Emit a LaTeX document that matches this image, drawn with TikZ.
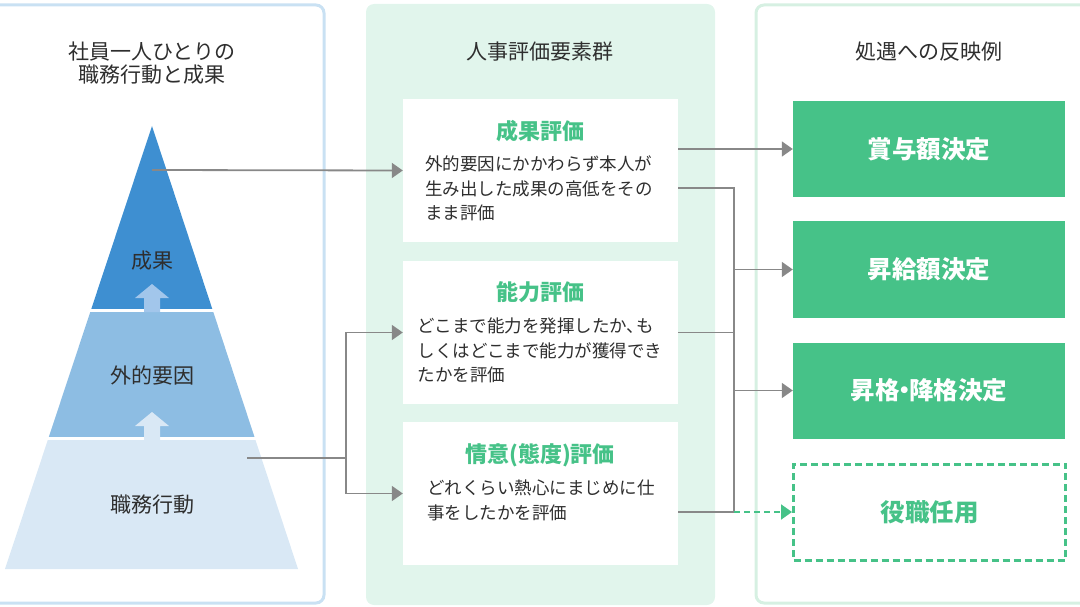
\documentclass[tikz,border=0pt]{standalone}
\usepackage{fontspec}
\setmainfont{Noto Sans CJK JP}
\usetikzlibrary{arrows.meta}
\definecolor{pyrtop}{HTML}{3E8FD1}
\definecolor{pyrmid}{HTML}{8DBDE3}
\definecolor{pyrlow}{HTML}{D9E8F5}
\definecolor{arrtop}{HTML}{A2C6EB}
\definecolor{leftframe}{HTML}{C9E1F3}
\definecolor{midpanel}{HTML}{E1F5EC}
\definecolor{rightframe}{HTML}{D6F0E2}
\definecolor{okgreen}{HTML}{46C288}
\definecolor{linegray}{HTML}{888888}
\definecolor{txt}{HTML}{2E2E2E}
\begin{document}
\begin{tikzpicture}[x=1pt,y=-1pt,
		heading/.style={text=txt,font=\fontsize{21}{23}\selectfont,align=center,inner sep=0},
		evalbox/.style={fill=white,minimum width=275pt,minimum height=143pt,inner sep=0},
		evalhead/.style={text=okgreen,font=\bfseries\fontsize{22}{24}\selectfont,inner sep=0},
		evalbody/.style={text=txt,font=\fontsize{17.5}{24.5}\selectfont,align=left,inner sep=0},
		resultbox/.style={fill=okgreen,text=white,minimum width=272pt,minimum height=96pt,inner sep=0,font=\bfseries\fontsize{24.5}{28}\selectfont},
		optbox/.style={draw=okgreen,line width=3pt,dash pattern=on 7pt off 4pt,text=okgreen,minimum width=272pt,minimum height=96pt,inner sep=0,font=\bfseries\fontsize{24.5}{28}\selectfont},
		wire/.style={draw=linegray,line width=1.8pt},
		wirearrow/.style={wire,-{Triangle[length=11pt,width=15pt]}}]
			\useasboundingbox (0,0) rectangle (1080,607);
			% panels
			\draw[leftframe,line width=3pt,rounded corners=8pt] (-10,5) rectangle (324,603);
			\fill[midpanel,rounded corners=8pt] (366,4) rectangle (715,605);
			\draw[rightframe,line width=3pt,rounded corners=8pt] (756,5) rectangle (1095,603);
			\node[heading] (lefttitle) at (152,63) {社員一人ひとりの\\職務行動と成果};
			\node[heading] (midtitle) at (540,52) {人事評価要素群};
			\node[heading] (righttitle) at (929,52) {処遇への反映例};
			% pyramid
			\coordinate (apex) at (152,126);
			\coordinate (baseL) at (5,569);
			\coordinate (baseR) at (298,569);
			\begin{scope}
				\clip (apex) -- (baseL) -- (baseR) -- cycle;
				\fill[pyrtop] (0,120) rectangle (310,309);
				\fill[pyrmid] (0,312) rectangle (310,437);
				\fill[pyrlow] (0,440) rectangle (310,570);
			\end{scope}
			\foreach \y/\c in {284/arrtop,412/pyrlow}
				\fill[\c] (135,\y+14) -- (152,\y) -- (169,\y+14) -- (160,\y+14) -- (160,\y+28) -- (144,\y+28) -- (144,\y+14) -- cycle;
			\node[heading] (result) at (152,261) {成果};
			\node[heading] (external) at (152,375) {外的要因};
			\node[heading] (conduct) at (152,505) {職務行動};
			% evaluation boxes
			\node[evalbox] (eval1) at (540.5,170.5) {};
			\node[evalbox] (eval2) at (540.5,332.5) {};
			\node[evalbox] (eval3) at (540.5,493.5) {};
			\node[evalhead] (head1) at (540,131) {成果評価};
			\node[evalhead] (head2) at (540,292) {能力評価};
			\node[evalhead] (head3) at (540,455) {情意(態度)評価};
			\node[evalbody] (body1) at (539,188.5) {外的要因にかかわらず本人が\\生み出した成果の高低をその\\まま評価};
			\node[evalbody] (body2) at (540,350.5) {どこまで能力を発揮したか、\kern-.45em も\\しくはどこまで能力が獲得でき\\たかを評価};
			\node[evalbody] (body3) at (541,500.5) {どれくらい熱心にまじめに仕\\事をしたかを評価};
			% outcomes
			\node[resultbox] (bonus) at (929,149) {賞与額決定};
			\node[resultbox] (raise) at (929,269.5) {昇給額決定};
			\node[resultbox] (grade) at (929,390.5) {昇格\kern-.3em・\kern-.3em 降格決定};
			\node[optbox] (post) at (929.5,512) {役職任用};
			% connectors left
			\coordinate (peak) at (152,170);
			\coordinate (ground) at (247,458);
			\coordinate (fork) at (346,458);
			\draw[wirearrow] (peak) -- (eval1.west);
			\draw[wire] (ground) -- (fork);
			\draw[wirearrow] (fork) |- (eval2.west);
			\draw[wirearrow] (fork) |- (eval3.west);
			% connectors right
			\coordinate (bus) at (734,188);
			\coordinate (busend) at (734,512);
			\draw[wirearrow] (eval1.east |- bonus.west) -- (bonus.west);
			\draw[wire] (eval1.east |- bus) -- (bus) -- (busend) -- (eval3.east |- busend);
			\draw[wire] (eval2.east) -- (bus |- eval2.east);
			\draw[wirearrow] (bus |- raise.west) -- (raise.west);
			\draw[wirearrow] (bus |- grade.west) -- (grade.west);
			\draw[okgreen,line width=2pt,dash pattern=on 6pt off 4pt,-{Triangle[length=11pt,width=15pt]}] (busend) -- (post.west);
		\end{tikzpicture}
\end{document}
